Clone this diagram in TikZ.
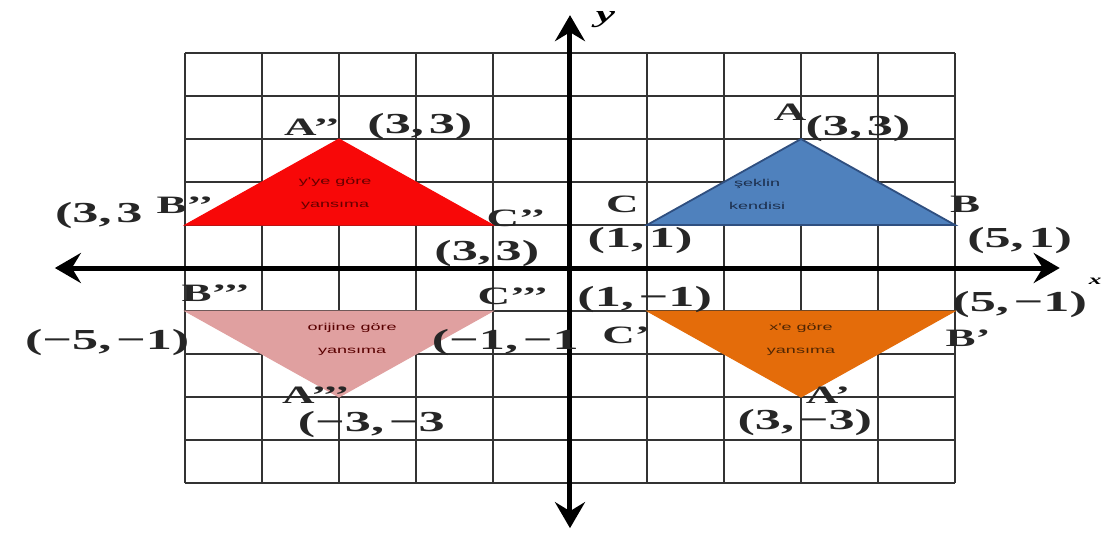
\documentclass[tikz,border=0pt]{standalone}
\usepackage{fontspec}
\usetikzlibrary{arrows.meta}
\newfontfamily\labf[FakeStretch=1.8]{Liberation Serif}
\newfontfamily\innerf[FakeStretch=1.8]{Liberation Sans}
\definecolor{gridc}{HTML}{333333}
\definecolor{blueF}{HTML}{4F81BD}
\definecolor{blueD}{HTML}{2F4F80}
\definecolor{redF}{HTML}{F80808}
\definecolor{oranF}{HTML}{E46C0A}
\definecolor{pinkF}{HTML}{E0A0A0}
\tikzset{
  gridline/.style={gridc, line width=2.8pt},
  axisline/.style={black, line width=5pt, {Stealth[length=26pt,width=30pt,inset=9pt]}-{Stealth[length=26pt,width=30pt,inset=9pt]}},
  tri/.style={line width=1pt, line join=miter},
  ptlab/.style={font=\labf\bfseries\fontsize{25}{27}\selectfont, inner sep=0pt, text=black!85},
  crd/.style={font=\labf\bfseries\fontsize{29}{31}\selectfont, inner sep=0pt, text=black!85},
  intext/.style={font=\innerf\fontsize{10}{23}\selectfont, align=center, inner sep=0pt},
  axlab/.style={font=\labf\bfseries\itshape\fontsize{24}{26}\selectfont, inner sep=0pt},
}
\begin{document}
\begin{tikzpicture}[x=77pt,y=43pt]
\useasboundingbox[fill=white] (-7.4026,-6.3488) rectangle (6.8961,6.2326);
% grid
\foreach \i in {-5,-4,...,5} {
  \draw[gridline] (\i,-5) -- (\i,5);
  \draw[gridline] (-5,\i) -- (5,\i);
}
% triangles
\coordinate (A) at (3,3); \coordinate (B) at (5,1); \coordinate (C) at (1,1);
\coordinate (A1) at (3,-3); \coordinate (B1) at (5,-1); \coordinate (C1) at (1,-1);
\coordinate (A2) at (-3,3); \coordinate (B2) at (-5,1); \coordinate (C2) at (-1,1);
\coordinate (A3) at (-3,-3); \coordinate (B3) at (-5,-1); \coordinate (C3) at (-1,-1);
\filldraw[tri, fill=blueF, draw=blueD, line width=1.8pt] (A) -- (B) -- (C) -- cycle;
\filldraw[tri, fill=redF, draw=redF] (A2) -- (B2) -- (C2) -- cycle;
\filldraw[tri, fill=oranF, draw=oranF] (A1) -- (B1) -- (C1) -- cycle;
\filldraw[tri, fill=pinkF, draw=pinkF] (A3) -- (B3) -- (C3) -- cycle;
% inner texts
\node[intext, text=blueD!60!black] (t1) at (2.43,1.72) {şeklin\\kendisi};
\node[intext, text=red!40!black] (t2) at (-3.05,1.72) {y'ye göre\\yansıma};
\node[intext, text=oranF!35!black] (t3) at (3.0,-1.67) {x'e göre\\yansıma};
\node[intext, text=red!35!black] (t4) at (-2.83,-1.67) {orijine göre\\yansıma};
% axes
\coordinate (xl) at (-6.69,0); \coordinate (xr) at (6.36,0);
\coordinate (yb) at (0,-6.05); \coordinate (yt) at (0,5.88);
\draw[axisline] (xl) -- (xr);
\draw[axisline] (yb) -- (yt);
\node[axlab] (ylab) at (0.46,5.78) {y};
\node[axlab, font=\labf\bfseries\itshape\fontsize{14}{16}\selectfont] (xlab) at (6.82,-0.30) {x};
% labels: original
\node[ptlab] (lA) at (2.86,3.62) {A};
\node[crd] (cA) at (3.74,3.24) {(3,\,3)};
\node[ptlab] (lC) at (0.68,1.47) {C};
\node[crd] (cC) at (0.91,0.65) {(1,\,1)};
\node[ptlab] (lB) at (5.13,1.47) {B};
\node[crd] (cB) at (5.84,0.65) {(5,\,1)};
% y reflection
\node[ptlab] (lA2) at (-3.35,3.28) {A’’};
\node[crd] (cA2) at (-1.95,3.28) {(3,\,3)};
\node[crd] (cB2) at (-6.12,1.23) {(3,\,3};
\node[ptlab] (lB2) at (-5.0,1.47) {B’’};
\node[ptlab] (lC2) at (-0.70,1.16) {C’’};
\node[crd] (cC2) at (-1.08,0.33) {(3,\,3)};
% origin reflection
\node[ptlab] (lB3) at (-4.60,-0.58) {B’’’};
\node[crd] (cB3) at (-6.01,-1.74) {(−5,\,−1)};
\node[ptlab] (lC3) at (-0.74,-0.65) {C’’’};
\node[crd] (cC3) at (-0.84,-1.74) {(−1,\,−1};
\node[ptlab] (lA3) at (-3.30,-2.96) {A’’’};
\node[crd] (cA3) at (-2.58,-3.64) {(−3,\,−3};
% x reflection
\node[crd] (cC1) at (0.97,-0.74) {(1,\,−1)};
\node[ptlab] (lC1) at (0.73,-1.56) {C’};
\node[crd] (cB1) at (5.84,-0.86) {(5,\,−1)};
\node[ptlab] (lB1) at (5.17,-1.63) {B’};
\node[ptlab] (lA1) at (3.35,-2.95) {A’};
\node[crd] (cA1) at (3.05,-3.60) {(3,\,−3)};
\end{tikzpicture}
\end{document}
